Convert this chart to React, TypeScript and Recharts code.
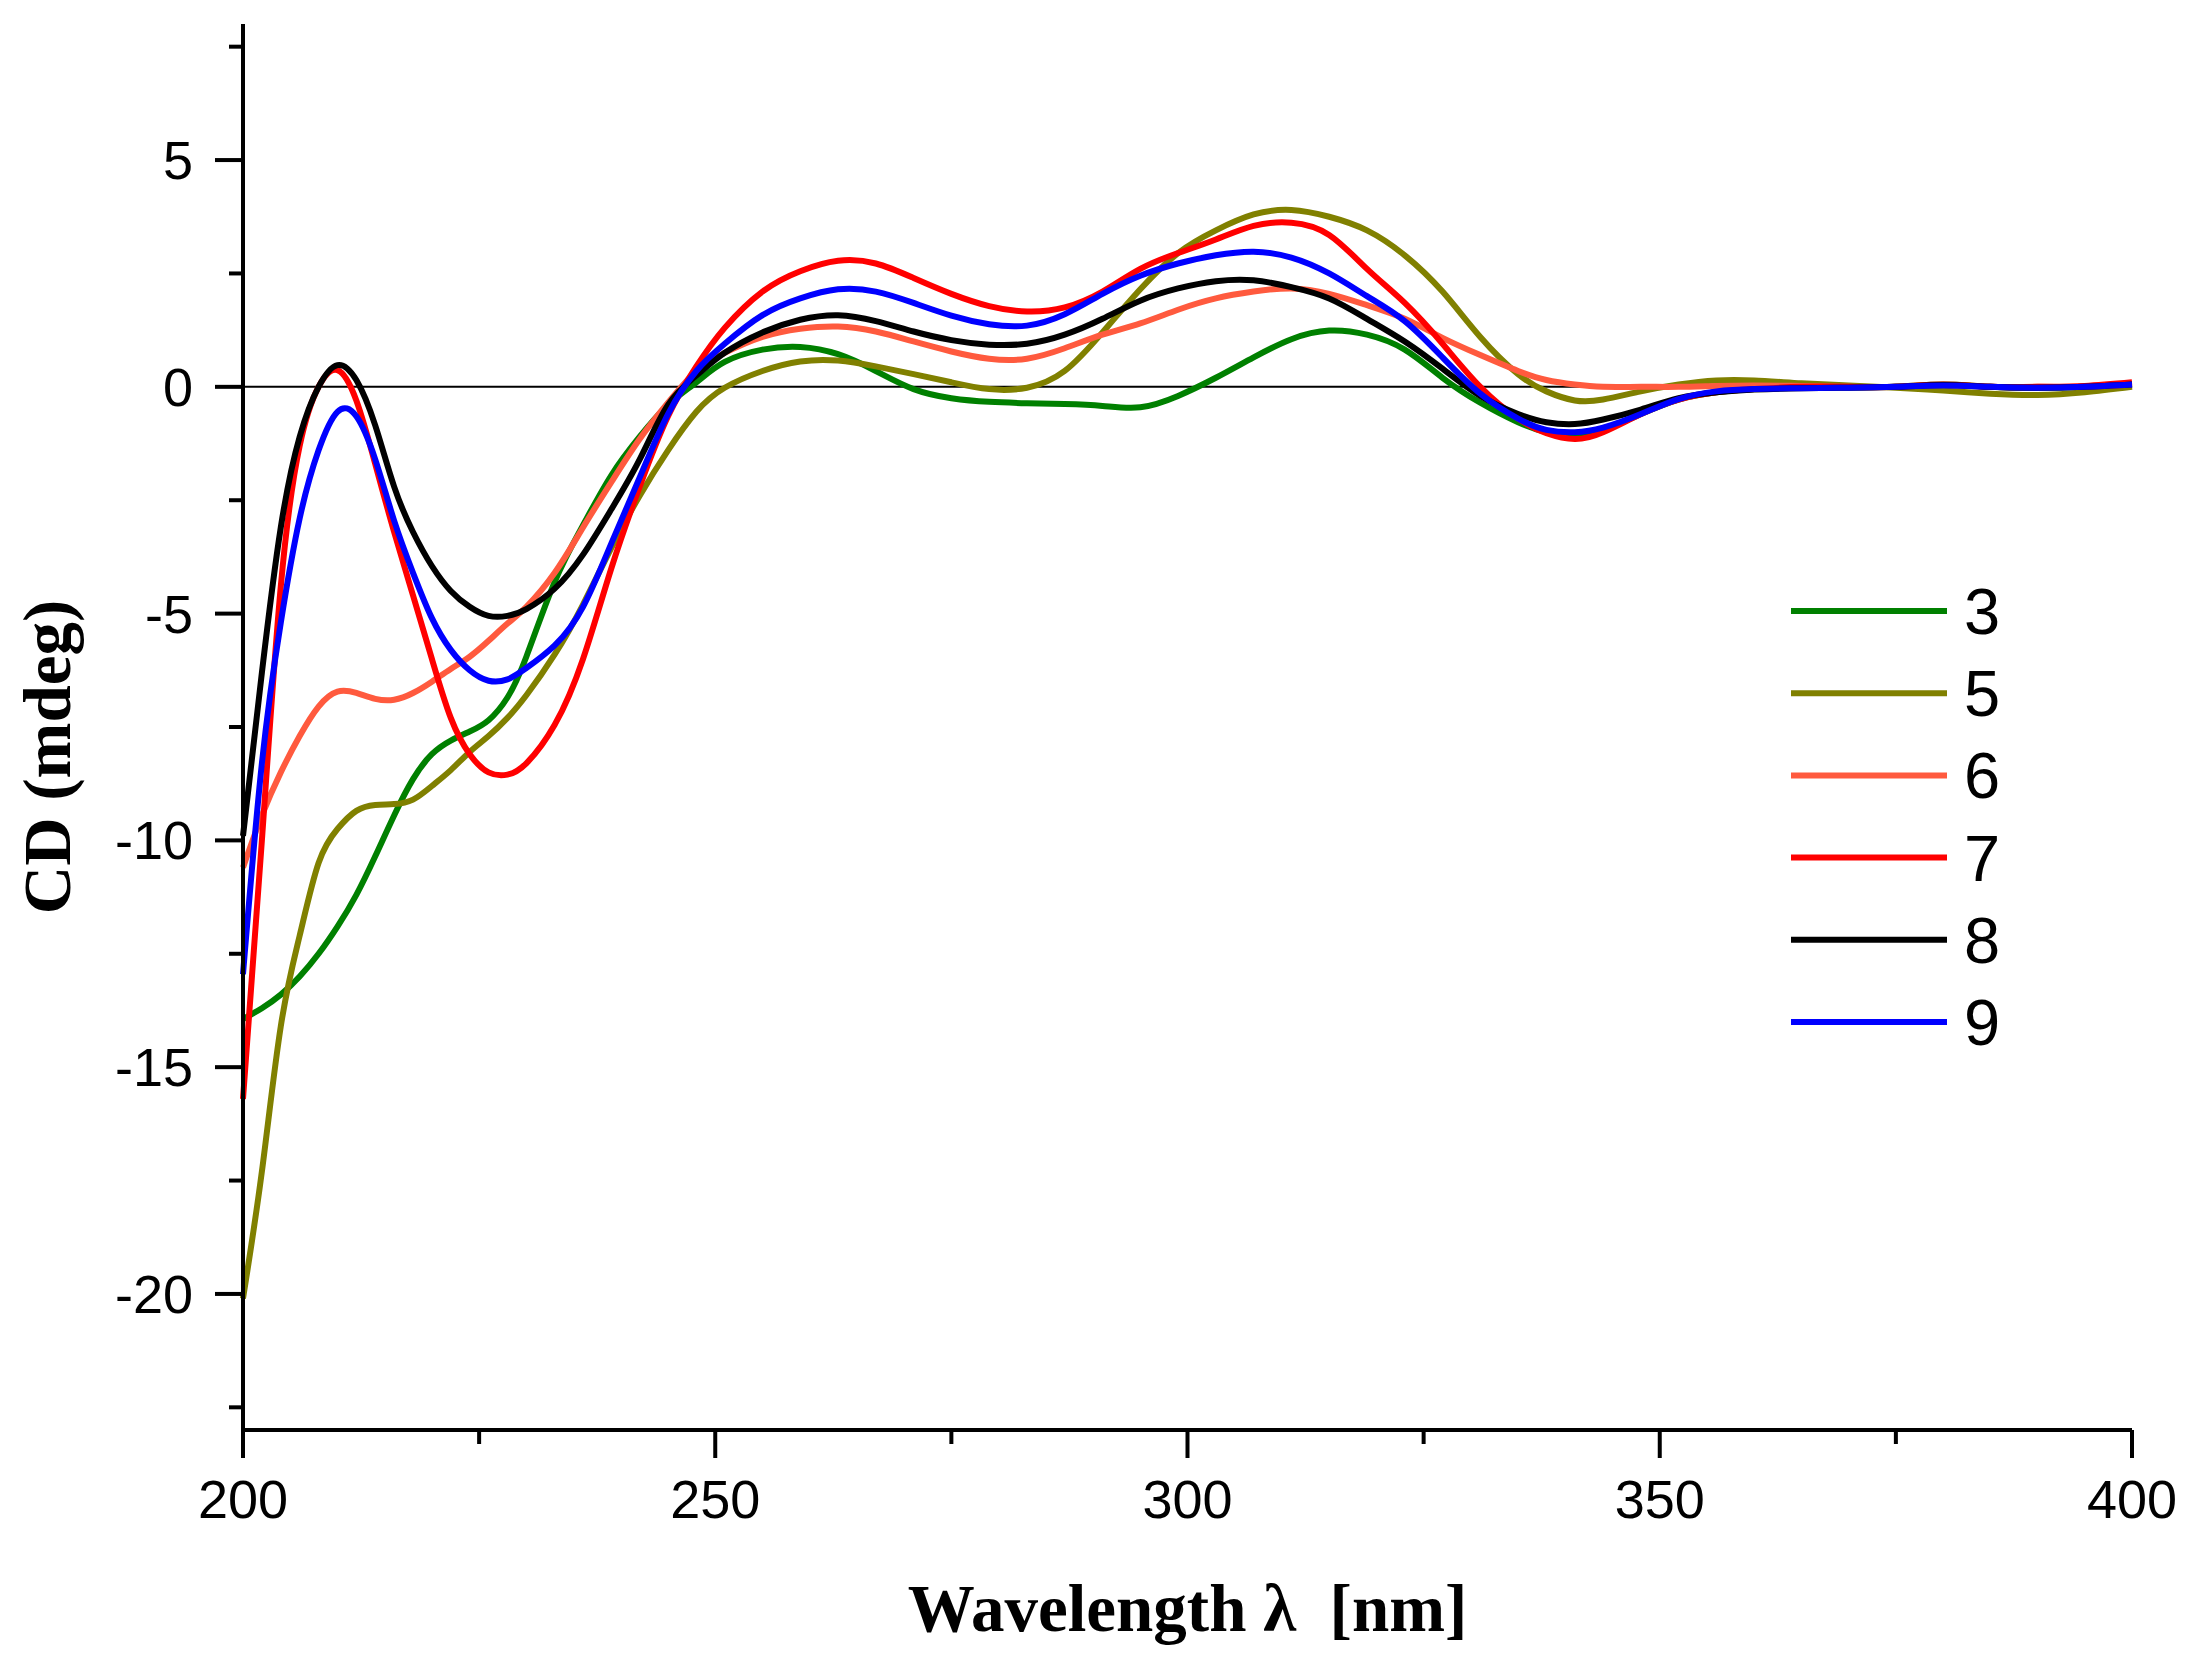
import React from "react";
import {
  LineChart,
  Line,
  XAxis,
  YAxis,
  ReferenceLine,
  Legend,
  Label,
} from "recharts";

// wavelength grid (nm)
const WAVELENGTHS = [
  200, 202, 204, 206, 208, 210, 212, 214, 216, 218, 220, 222, 224, 226, 228,
  230, 233, 236, 239, 242, 245, 248, 251, 255, 259, 263, 267, 271, 275, 279,
  283, 287, 291, 295, 299, 303, 307, 311, 315, 319, 323, 327, 331, 335, 338,
  341, 344, 348, 352, 356, 360, 365, 370, 375, 380, 385, 390, 395, 400,
];

// CD (mdeg) per compound
const CD_3 = [
  -13.94, -13.7, -13.4, -13.0, -12.5, -11.9, -11.2, -10.35, -9.45, -8.65, -8.1,
  -7.8, -7.6, -7.35, -6.85, -5.95, -4.3, -3.05, -1.95, -1.1, -0.4, 0.1, 0.55,
  0.82, 0.88, 0.72, 0.35, -0.05, -0.25, -0.33, -0.36, -0.38, -0.42, -0.45, -0.2,
  0.2, 0.65, 1.05, 1.24, 1.15, 0.82, 0.2, -0.35, -0.78, -1.0, -1.08, -0.95, -0.6,
  -0.28, -0.12, -0.05, -0.02, -0.01, 0.0, 0.05, 0.0, -0.02, 0.0, 0.05,
];
const CD_5 = [
  -20.1, -17.3, -14.1, -12.1, -10.5, -9.75, -9.35, -9.22, -9.2, -9.1, -8.8,
  -8.45, -8.05, -7.7, -7.3, -6.8, -5.9, -4.8, -3.55, -2.4, -1.4, -0.55, -0.02,
  0.35, 0.56, 0.58, 0.45, 0.28, 0.1, -0.05, -0.02, 0.35, 1.2, 2.15, 2.95, 3.45,
  3.8, 3.9, 3.75, 3.45, 2.9, 2.1, 1.1, 0.28, -0.1, -0.3, -0.28, -0.1, 0.05,
  0.14, 0.14, 0.08, 0.03, -0.02, -0.08, -0.15, -0.18, -0.12, 0.0,
];
const CD_6 = [
  -10.6, -9.45, -8.5, -7.7, -7.05, -6.72, -6.75, -6.88, -6.9, -6.75, -6.5, -6.22,
  -5.95, -5.6, -5.22, -4.85, -4.1, -3.1, -2.1, -1.15, -0.35, 0.35, 0.75, 1.1,
  1.28, 1.33, 1.22, 1.0, 0.78, 0.62, 0.62, 0.85, 1.15, 1.4, 1.7, 1.95, 2.1,
  2.17, 2.05, 1.8, 1.5, 1.08, 0.7, 0.35, 0.15, 0.05, 0.0, 0.0, 0.0, 0.02, 0.03,
  0.02, 0.0, 0.0, 0.04, 0.0, 0.0, 0.0, 0.05,
];
const CD_7 = [
  -15.7, -10.0, -4.4, -1.3, 0.0, 0.37, -0.3, -1.7, -3.2, -4.6, -6.0, -7.3,
  -8.1, -8.5, -8.55, -8.3, -7.45, -6.0, -4.0, -2.2, -0.65, 0.45, 1.3, 2.1, 2.55,
  2.78, 2.72, 2.4, 2.05, 1.78, 1.66, 1.75, 2.1, 2.6, 2.95, 3.25, 3.55, 3.62,
  3.35, 2.6, 1.85, 0.95, 0.0, -0.7, -1.02, -1.15, -1.0, -0.6, -0.28, -0.12,
  -0.05, 0.0, 0.0, 0.0, 0.05, 0.0, 0.0, 0.02, 0.1,
];
const CD_8 = [
  -9.9, -6.3, -3.1, -1.1, 0.0, 0.48, 0.15, -0.85, -2.2, -3.2, -3.95, -4.5, -4.85,
  -5.05, -5.05, -4.9, -4.45, -3.7, -2.7, -1.6, -0.4, 0.25, 0.75, 1.2, 1.48,
  1.58, 1.45, 1.22, 1.03, 0.93, 0.95, 1.15, 1.5, 1.9, 2.17, 2.33, 2.35, 2.2,
  1.95, 1.5, 1.0, 0.4, -0.2, -0.6, -0.78, -0.82, -0.72, -0.5, -0.25, -0.12,
  -0.06, -0.03, -0.02, 0.0, 0.04, 0.0, -0.02, 0.0, 0.05,
];
const CD_9 = [
  -12.95, -8.3, -5.2, -2.9, -1.4, -0.55, -0.65, -1.6, -2.95, -4.1, -5.1, -5.8,
  -6.25, -6.48, -6.45, -6.2, -5.7, -4.85, -3.45, -2.0, -0.6, 0.35, 0.95, 1.58,
  1.95, 2.15, 2.1, 1.85, 1.57, 1.38, 1.35, 1.6, 2.05, 2.45, 2.72, 2.9, 2.98,
  2.85, 2.5, 2.0, 1.45, 0.65, -0.15, -0.7, -0.95, -1.0, -0.9, -0.6, -0.27, -0.1,
  -0.05, -0.03, -0.02, 0.0, 0.03, 0.0, -0.02, 0.0, 0.05,
];

const SERIES = [
  { key: "s3", name: "3", values: CD_3, color: "#008000" },
  { key: "s5", name: "5", values: CD_5, color: "#808000" },
  { key: "s6", name: "6", values: CD_6, color: "#FF5A3E" },
  { key: "s7", name: "7", values: CD_7, color: "#FF0000" },
  { key: "s8", name: "8", values: CD_8, color: "#000000" },
  { key: "s9", name: "9", values: CD_9, color: "#0000FF" },
];

const X_TICKS = [200, 225, 250, 275, 300, 325, 350, 375, 400];
const Y_TICKS = [-22.5, -20, -17.5, -15, -12.5, -10, -7.5, -5, -2.5, 0, 2.5, 5, 7.5];

const data = WAVELENGTHS.map((w, i) => {
  const row: Record<string, number> = { w };
  SERIES.forEach((s) => {
    row[s.key] = s.values[i];
  });
  return row;
});

const SANS = "'Liberation Sans', Arial, sans-serif";
const SERIF = "'Liberation Serif', 'Times New Roman', serif";

function YTick(props: any) {
  const { x, y, payload } = props;
  const v = payload.value;
  const major = v % 5 === 0;
  return (
    <g>
      <line x1={x - (major ? 28 : 14)} x2={x} y1={y} y2={y} stroke="#000" strokeWidth={4} />
      {major && (
        <text x={x - 50} y={y + 19} textAnchor="end" fontSize={54} fontFamily={SANS} fill="#000">
          {String(v)}
        </text>
      )}
    </g>
  );
}

function XTick(props: any) {
  const { x, y, payload } = props;
  const v = payload.value;
  const major = v % 50 === 0;
  return (
    <g>
      <line x1={x} x2={x} y1={y} y2={y + (major ? 28 : 14)} stroke="#000" strokeWidth={4} />
      {major && (
        <text x={x} y={y + 88} textAnchor="middle" fontSize={54} fontFamily={SANS} fill="#000">
          {String(v)}
        </text>
      )}
    </g>
  );
}

function LegendBox(props: any) {
  const items = props.payload || [];
  return (
    <svg width={320} height={520}>
      {items.map((it: any, i: number) => {
        const cy = 51 + i * 82.2;
        return (
          <g key={it.value}>
            <line x1={11} x2={167} y1={cy} y2={cy} stroke={it.color} strokeWidth={6} />
            <text x={184} y={cy + 23} fontSize={65} fontFamily={SANS} fill="#000">
              {it.value}
            </text>
          </g>
        );
      })}
    </svg>
  );
}

export default function App() {
  return (
    <div style={{ width: 2189, height: 1666, background: "#fff" }}>
      <style>{"body{margin:0}"}</style>
      <LineChart
        width={2189}
        height={1666}
        data={data}
        margin={{ top: 24, right: 57, left: 103, bottom: 86 }}
      >
        <XAxis
          dataKey="w"
          type="number"
          domain={[200, 400]}
          ticks={X_TICKS}
          tick={<XTick />}
          tickLine={false}
          tickSize={0}
          tickMargin={0}
          height={150}
          axisLine={{ stroke: "#000", strokeWidth: 4 }}
          interval={0}
        >
          <Label
            content={(p: any) => {
              const vb = p.viewBox;
              return (
                <text
                  x={vb.x + vb.width / 2}
                  y={vb.y + 201}
                  textAnchor="middle"
                  fontSize={67}
                  fontWeight="bold"
                  fontFamily={SERIF}
                  fill="#000"
                  style={{ whiteSpace: "pre" }}
                >
                  {"Wavelength λ  [nm]"}
                </text>
              );
            }}
          />
        </XAxis>
        <YAxis
          type="number"
          domain={[-23, 8]}
          ticks={Y_TICKS}
          tick={<YTick />}
          tickLine={false}
          tickSize={0}
          tickMargin={0}
          width={140}
          axisLine={{ stroke: "#000", strokeWidth: 4 }}
          interval={0}
          allowDataOverflow
        >
          <Label
            content={() => (
              <text
                transform="translate(70, 757) rotate(-90)"
                textAnchor="middle"
                fontSize={67}
                fontWeight="bold"
                fontFamily={SERIF}
                fill="#000"
              >
                CD (mdeg)
              </text>
            )}
          />
        </YAxis>
        <ReferenceLine y={0} stroke="#000" strokeWidth={2} />
        {SERIES.map((s) => (
          <Line
            key={s.key}
            type="natural"
            dataKey={s.key}
            name={s.name}
            stroke={s.color}
            strokeWidth={6}
            dot={false}
            activeDot={false}
            isAnimationActive={false}
          />
        ))}
        <Legend
          layout="horizontal"
          verticalAlign="middle"
          align="center"
          content={<LegendBox />}
          wrapperStyle={{ position: "absolute", left: 1780, top: 560, width: 320, height: 520 }}
        />
      </LineChart>
    </div>
  );
}
